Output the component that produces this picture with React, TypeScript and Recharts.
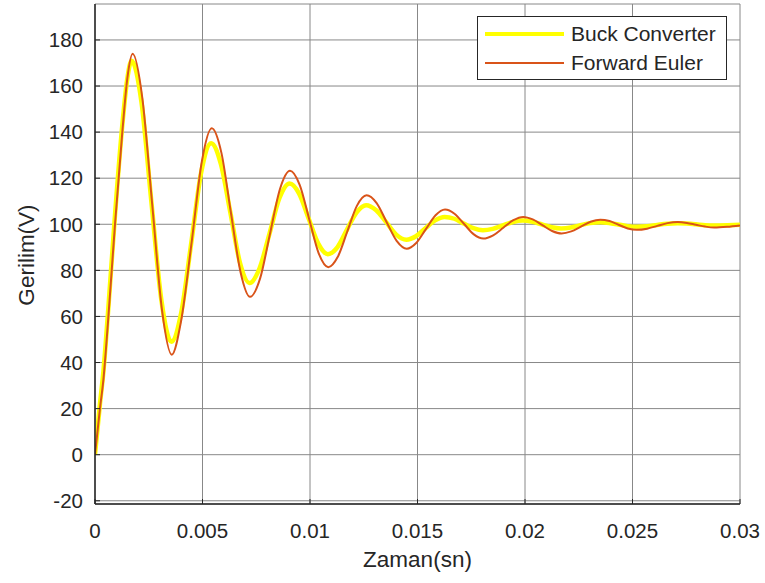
import React from "react";
import { LineChart, Line, XAxis, YAxis, CartesianGrid } from "recharts";

const seriesNames = ["Buck Converter", "Forward Euler"];
const seriesColors = ["#ffff00", "#d95319"];

const xTicks = [0, 0.005, 0.01, 0.015, 0.02, 0.025, 0.03];
const yTicks = [-20, 0, 20, 40, 60, 80, 100, 120, 140, 160, 180];

const buckTime = [
  0, 0.00023, 0.00039, 0.0006, 0.00093, 0.00127, 0.0015, 0.0017, 0.00216, 0.00262, 0.00309,
  0.00355, 0.00401, 0.00448, 0.00494, 0.0054, 0.00585, 0.0063, 0.00674, 0.00719, 0.00765,
  0.00812, 0.00858, 0.00905, 0.0095, 0.00994, 0.01039, 0.01083, 0.01128, 0.01172, 0.01217,
  0.01261, 0.01308, 0.01355, 0.01401, 0.01448, 0.01493, 0.01537, 0.01582, 0.01626, 0.01671,
  0.01715, 0.0176, 0.01804, 0.0185, 0.01897, 0.01944, 0.0199, 0.02035, 0.02079, 0.02124,
  0.02168, 0.02213, 0.02258, 0.02303, 0.02348, 0.02391, 0.02434, 0.02477, 0.0252, 0.02568,
  0.02615, 0.02663, 0.0271, 0.02753, 0.02795, 0.02838, 0.0288, 0.0294, 0.03,
];
const buckVoltage = [
  0, 22, 36, 61, 104, 143, 163, 171, 153.1, 110, 66.9,
  49, 61.6, 92.1, 122.6, 135.2, 126.3, 104.9, 83.4, 74.5, 80.8,
  96.1, 111.4, 117.7, 113.2, 102.4, 91.5, 87, 90.1, 97.7, 105.2,
  108.3, 106.1, 100.8, 95.5, 93.3, 94.8, 98.3, 101.7, 103.2, 102.4,
  100.3, 98.3, 97.4, 98, 99.5, 101, 101.6, 101.1, 99.9, 98.7,
  98.2, 98.6, 99.6, 100.5, 100.9, 100.6, 99.9, 99.2, 98.9, 99.1,
  99.7, 100.2, 100.4, 100.3, 100, 99.6, 99.5, 99.6, 99.8,
];

const eulerTime = [
  0, 0.00023, 0.00039, 0.0006, 0.00093, 0.00127, 0.0015, 0.00175, 0.0022, 0.00266, 0.00312,
  0.00357, 0.004, 0.0045, 0.00497, 0.00543, 0.00588, 0.00632, 0.00677, 0.00721, 0.00768,
  0.00814, 0.0086, 0.00907, 0.00952, 0.00996, 0.0104, 0.01085, 0.0113, 0.01174, 0.01218,
  0.01263, 0.0131, 0.01356, 0.01403, 0.0145, 0.01494, 0.01539, 0.01584, 0.01628, 0.01672,
  0.01717, 0.01762, 0.01806, 0.01852, 0.01899, 0.01946, 0.01992, 0.02036, 0.02081, 0.02126,
  0.0217, 0.02215, 0.0226, 0.02305, 0.0235, 0.02393, 0.02435, 0.02478, 0.0252, 0.02568,
  0.02615, 0.02663, 0.0271, 0.02753, 0.02795, 0.02838, 0.0288, 0.0294, 0.03,
];
const eulerVoltage = [
  0, 20, 32.5, 57, 100, 140, 163, 174, 154.9, 108.7, 62.5,
  43.4, 57.8, 92.6, 127.3, 141.7, 131, 105.1, 79.2, 68.5, 76.5,
  95.9, 115.2, 123.2, 117.1, 102.3, 87.5, 81.4, 86, 97, 108,
  112.6, 109.2, 101, 92.8, 89.4, 91.9, 97.9, 103.9, 106.4, 104.6,
  100.1, 95.6, 93.8, 95.2, 98.5, 101.8, 103.2, 102.1, 99.6, 97.1,
  96, 96.9, 99, 101.1, 102, 101.4, 99.8, 98.2, 97.6, 98.1,
  99.3, 100.5, 101, 100.6, 99.8, 99, 98.6, 98.9, 99.5,
];

const buckData = buckTime.map((t, i) => ({ t, v: buckVoltage[i] }));
const eulerData = eulerTime.map((t, i) => ({ t, v: eulerVoltage[i] }));

const FONT = "'Liberation Sans', Arial, Helvetica, sans-serif";
const TEXT = "#262626";
const tickStyle = { fill: TEXT, fontSize: 20.5, fontFamily: FONT };

export default function App() {
  return (
    <div style={{ position: "absolute", left: 0, top: 0, width: 765, height: 583, background: "#fff" }}>
      <LineChart
        width={765}
        height={583}
        margin={{ top: 4, right: 25, bottom: 0, left: 0 }}
      >
        <CartesianGrid stroke="#888888" strokeWidth={1} />
        <XAxis
          dataKey="t"
          type="number"
          domain={[0, 0.03]}
          ticks={xTicks}
          allowDataOverflow
          height={79}
          tick={tickStyle}
          tickSize={-5}
          tickMargin={24}
          tickFormatter={(v: number) => String(v)}
          axisLine={{ stroke: TEXT, strokeWidth: 1.5 }}
          tickLine={{ stroke: TEXT }}
          label={{ value: "Zaman(sn)", position: "insideBottom", offset: 16, fill: TEXT, fontSize: 22.5, fontFamily: FONT }}
        />
        <XAxis
          xAxisId="top"
          orientation="top"
          type="number"
          domain={[0, 0.03]}
          ticks={xTicks}
          allowDataOverflow
          height={0}
          tick={false}
          tickSize={-5}
          axisLine={{ stroke: TEXT, strokeWidth: 1.5 }}
          tickLine={{ stroke: TEXT }}
        />
        <YAxis
          type="number"
          domain={[-21.4, 195.6]}
          ticks={yTicks}
          allowDataOverflow
          width={95}
          tick={tickStyle}
          tickSize={-5}
          tickMargin={17}
          axisLine={{ stroke: TEXT, strokeWidth: 1.5 }}
          tickLine={{ stroke: TEXT }}
          label={{
            content: () => (
              <text
                x={26}
                y={255}
                transform="rotate(-90 26 255)"
                textAnchor="middle"
                dominantBaseline="central"
                fill={TEXT}
                fontSize={22.5}
                fontFamily={FONT}
              >
                Gerilim(V)
              </text>
            ),
          }}
        />
        <YAxis
          yAxisId="right"
          orientation="right"
          type="number"
          domain={[-21.4, 195.6]}
          ticks={yTicks}
          allowDataOverflow
          width={0}
          tick={false}
          tickSize={-5}
          axisLine={{ stroke: TEXT, strokeWidth: 1.5 }}
          tickLine={{ stroke: TEXT }}
        />
        <Line
          data={buckData}
          dataKey="v"
          name={seriesNames[0]}
          type="monotone"
          stroke={seriesColors[0]}
          strokeWidth={4.5}
          dot={false}
          isAnimationActive={false}
        />
        <Line
          data={eulerData}
          dataKey="v"
          name={seriesNames[1]}
          type="monotone"
          stroke={seriesColors[1]}
          strokeWidth={2}
          dot={false}
          isAnimationActive={false}
        />
      </LineChart>
      <div
        style={{
          position: "absolute",
          left: 477,
          top: 16,
          width: 250,
          height: 64,
          boxSizing: "border-box",
          border: `1.5px solid ${TEXT}`,
          background: "#fff",
          fontFamily: FONT,
          fontSize: 21,
          color: TEXT,
        }}
      >
        {seriesNames.map((name, i) => (
          <div key={name}>
            <div
              style={{
                position: "absolute",
                left: 7,
                top: (i === 0 ? 17 : 46) - (i === 0 ? 2.25 : 1.25),
                width: 79,
                height: i === 0 ? 4.5 : 2.5,
                background: seriesColors[i],
              }}
            />
            <div
              style={{
                position: "absolute",
                left: 93,
                top: (i === 0 ? 17 : 46) - 12,
                height: 24,
                lineHeight: "24px",
                whiteSpace: "nowrap",
              }}
            >
              {name}
            </div>
          </div>
        ))}
      </div>
    </div>
  );
}
